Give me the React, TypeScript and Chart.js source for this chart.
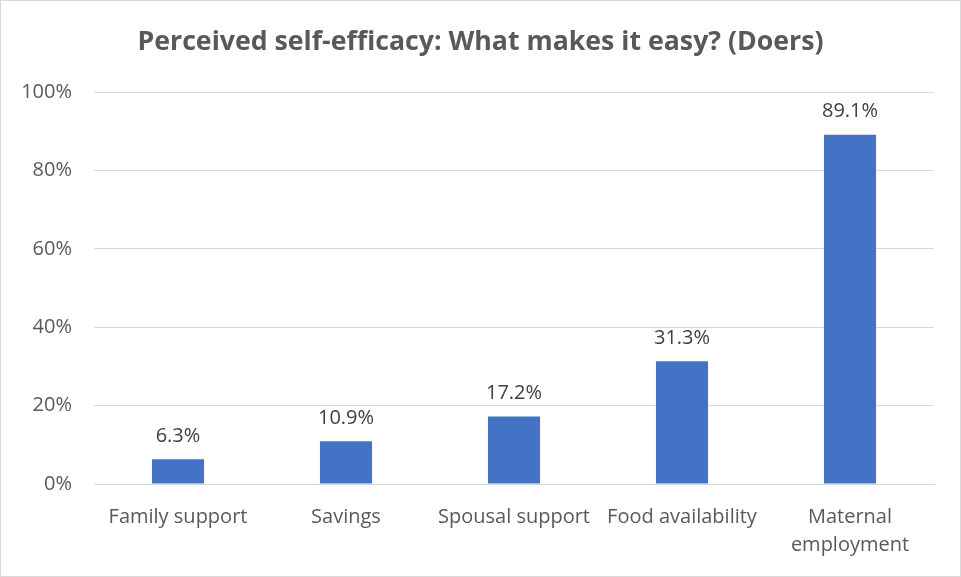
import React, { useEffect, useRef } from "react";
import { Chart, registerables } from "chart.js";

Chart.register(...registerables);

const categories: (string | string[])[] = [
  "Family support",
  "Savings",
  "Spousal support",
  "Food availability",
  ["Maternal", "employment"],
];
const values: number[] = [6.3, 10.9, 17.2, 31.3, 89.1];
const valueLabels: string[] = ["6.3%", "10.9%", "17.2%", "31.3%", "89.1%"];
const titleText = "Perceived self-efficacy: What makes it easy? (Doers)";

const FONT = "'Open Sans', sans-serif";
const TEXT = "#595959";

const dataLabelPlugin = {
  id: "dataLabels",
  afterDatasetsDraw(chart: any) {
    const ctx = chart.ctx;
    const meta = chart.getDatasetMeta(0);
    ctx.save();
    ctx.font = `20px ${FONT}`;
    ctx.fillStyle = "#404040";
    ctx.textAlign = "center";
    ctx.textBaseline = "bottom";
    meta.data.forEach((bar: any, i: number) => {
      ctx.fillText(valueLabels[i], bar.x, bar.y - 13);
    });
    ctx.restore();
  },
};

const titlePlugin = {
  id: "centeredTitle",
  afterDraw(chart: any) {
    const ctx = chart.ctx;
    ctx.save();
    ctx.font = `bold 26.7px ${FONT}`;
    ctx.fillStyle = TEXT;
    ctx.textAlign = "center";
    ctx.textBaseline = "alphabetic";
    ctx.fillText(titleText, chart.width / 2, 49);
    ctx.restore();
  },
};

export default function App() {
  const ref = useRef<HTMLCanvasElement | null>(null);
  useEffect(() => {
    document.body.style.margin = "0";
    const chart = new Chart(ref.current as HTMLCanvasElement, {
      type: "bar",
      data: {
        labels: categories,
        datasets: [
          {
            data: values,
            backgroundColor: "#4472C4",
            barPercentage: 0.31,
            categoryPercentage: 1,
          },
        ],
      },
      options: {
        animation: false,
        responsive: false,
        maintainAspectRatio: false,
        layout: { padding: { left: 0, right: 26, top: 91, bottom: 0 } },
        plugins: {
          legend: { display: false },
          tooltip: { enabled: false },
          title: { display: false },
        },
        scales: {
          x: {
            afterFit: (scale: any) => {
              scale.height = 92;
            },
            grid: { display: false, drawTicks: false },
            border: { color: "#d9d9d9", width: 1 },
            ticks: {
              color: TEXT,
              font: { family: FONT, size: 20, lineHeight: 1.4 },
              padding: 19,
              maxRotation: 0,
              autoSkip: false,
            },
          },
          y: {
            min: 0,
            max: 100,
            afterFit: (scale: any) => {
              scale.width = 93;
            },
            grid: { color: "#d9d9d9", drawTicks: false },
            border: { display: false },
            ticks: {
              stepSize: 20,
              color: TEXT,
              font: { family: FONT, size: 20 },
              padding: 22,
              callback: (v: any) => `${v}%`,
            },
          },
        },
      },
      plugins: [dataLabelPlugin, titlePlugin],
    });
    return () => chart.destroy();
  }, []);
  return (
    <div
      style={{
        position: "absolute",
        left: 0,
        top: 0,
        width: 961,
        height: 577,
        boxSizing: "border-box",
        border: "1px solid #d9d9d9",
        background: "#fff",
      }}
    >
      <canvas ref={ref} width={959} height={575} style={{ display: "block" }} />
    </div>
  );
}
